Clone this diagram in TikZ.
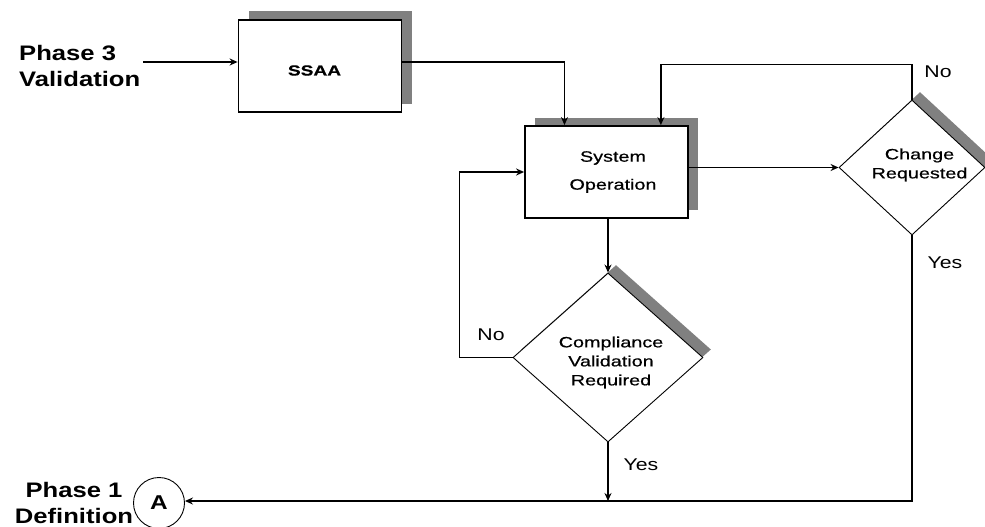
\documentclass[tikz,border=0pt]{standalone}
\usepackage{fontspec}
\setmainfont{Liberation Sans}
\newfontfamily\bigfont{Liberation Sans}[FakeStretch=1.22]
\newfontfamily\smallfont{Liberation Sans}[FakeStretch=1.32,FakeBold=0.5]
\newfontfamily\lblfont{Liberation Sans}[FakeStretch=1.25]
\usetikzlibrary{shapes.geometric,shadows,arrows.meta,calc}
\definecolor{shadowgray}{RGB}{128,128,128}
\begin{document}
\begin{tikzpicture}[x=1pt,y=-1pt,
  box/.style={draw, line width=1.8pt, fill=white, inner sep=0pt,
    minimum width=163pt, minimum height=92pt,
    drop shadow={shadow xshift=10pt, shadow yshift=8.5pt, fill=shadowgray, opacity=1}},
  dia/.style={draw, diamond, line width=0.9pt, fill=white, inner sep=0pt,
    drop shadow={shadow xshift=8pt, shadow yshift=8pt, fill=shadowgray, opacity=1}},
  conn/.style={line width=1.4pt},
  arr/.style={conn, -{Stealth[length=8pt,width=7pt]}},
  big/.style={inner sep=0pt, font=\bigfont\bfseries\fontsize{21}{26}\selectfont},
  inner/.style={inner sep=0pt, align=center, font=\smallfont\fontsize{15}{19}\selectfont},
  lbl/.style={inner sep=0pt, font=\lblfont\fontsize{17}{20}\selectfont}]
\useasboundingbox (0,0) rectangle (985,527);

% boxes
\node[box] (ssaa) at (320,66) {};
\node[inner, font=\smallfont\bfseries\fontsize{14.5}{17}\selectfont] (ssaat) at (314.5,70.5) {SSAA};
\node[box] (sysop) at (606.5,172) {};
\node[inner, font=\smallfont\fontsize{15}{28}\selectfont] (sysopt) at (613,172) {System\\Operation};

% diamonds
\node[dia, minimum width=146pt, minimum height=135pt] (cr) at (912,167.5) {};
\node[inner] (crt) at (919.5,165) {Change\\Requested};
\node[dia, minimum width=190pt, minimum height=169pt] (comp) at (608,357.5) {};
\node[inner] (compt) at (611,362.5) {Compliance\\Validation\\Required};

% connector circle
\node[circle, draw, line width=0.9pt, minimum size=51pt, inner sep=0pt,
  font=\bigfont\bfseries\fontsize{20}{20}\selectfont] (A) at (159,503) {A};

% outside labels
\node[big, anchor=west, align=left] (p3) at (19,65.5) {Phase 3\\Validation};
\node[big, align=center] (p1) at (74,502.5) {Phase 1\\Definition};

% branch labels
\node[lbl] (no1) at (938,72) {No};
\node[lbl] (no2) at (491,335) {No};
\node[lbl] (yes1) at (945,263) {Yes};
\node[lbl] (yes2) at (641,465) {Yes};

% helper coordinates
\coordinate (in3) at (143,62);
\coordinate (s1) at ($(sysop.north west)!0.245!(sysop.north east)$);
\coordinate (s2) at ($(sysop.north west)!0.83!(sysop.north east)$);
\coordinate (corner) at (cr.south |- 0,501);

% connectors
\draw[arr] (in3) -- (in3 -| ssaa.west);
\draw[arr] (in3 -| ssaa.east) -| (s1);
\draw[arr] (cr.north) -- ++(0,-35) -| (s2);
\draw[arr] (cr.west -| sysop.east) -- (cr.west);
\draw[arr] (comp.north |- sysop.south) -- (comp.north);
\draw[arr] (comp.west) -- ++(-53,0) |- (sysop.west);
\draw[arr] (comp.south) -- (comp.south |- corner);
\draw[arr] (cr.south) -- (corner) -- (A.east |- corner);
\end{tikzpicture}
\end{document}
